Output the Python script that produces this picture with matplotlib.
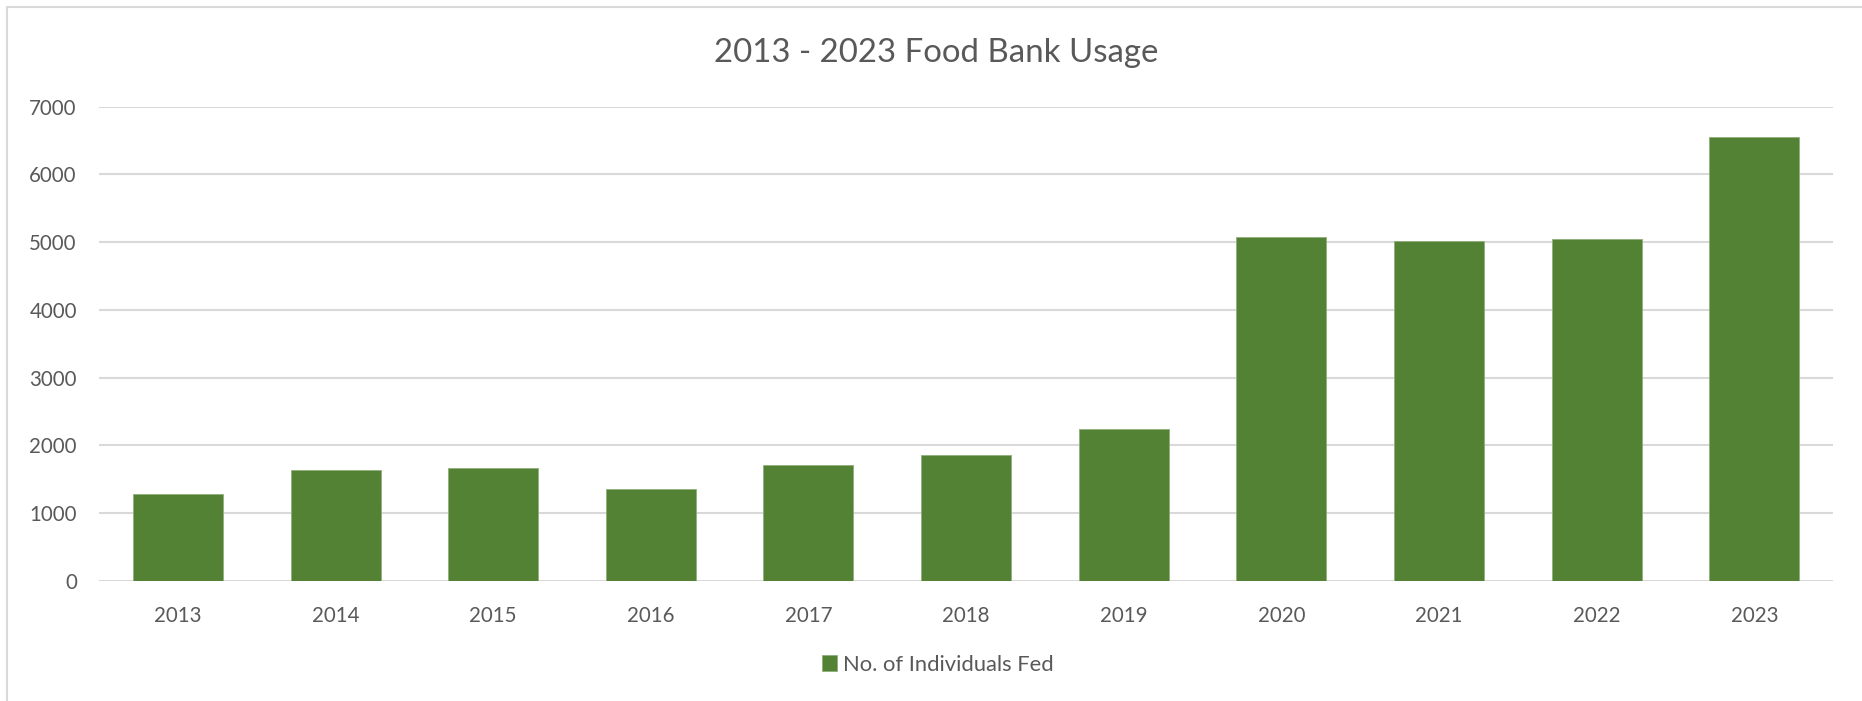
import matplotlib.pyplot as plt
from matplotlib.patches import Rectangle
import numpy as np

# values
years = ['2013', '2014', '2015', '2016', '2017', '2018', '2019', '2020', '2021', '2022', '2023']
individuals_fed = [1281, 1645, 1669, 1365, 1713, 1866, 2249, 5081, 5018, 5041, 6558]
y_ticks = [0, 1000, 2000, 3000, 4000, 5000, 6000, 7000]

bar_color = '#548235'
text_color = '#595959'
grid_color = '#d9d9d9'

plt.rcParams['font.family'] = ['Lato', 'DejaVu Sans']

fig = plt.figure(figsize=(18.62, 7.01), dpi=100)
ax = fig.add_axes([0.0532, 0.1712, 0.9313, 0.6766])

x = np.arange(len(years))
ax.bar(x, individuals_fed, width=0.571, color=bar_color, edgecolor='#8fae7a',
       linewidth=0.6, label='No. of Individuals Fed', zorder=3)

ax.set_xlim(-0.5, len(years) - 0.5)
ax.set_ylim(0, 7000)
ax.set_yticks(y_ticks)
ax.set_xticks(x)
ax.set_xticklabels(years)

#gridlines look like excel
ax.yaxis.grid(True, color=grid_color, linewidth=1.5, zorder=0)
ax.set_axisbelow(True)
for s in ax.spines.values():
	s.set_visible(False)
ax.tick_params(axis='both', length=0, labelsize=14.8, labelcolor=text_color)
ax.tick_params(axis='y', pad=16)
ax.tick_params(axis='x', pad=18)

fig.text(0.5027, 0.924, '2013 - 2023 Food Bank Usage', ha='center', va='center',
         fontsize=23.8, color=text_color)

ax.legend(loc='center', bbox_to_anchor=(0.5035, 0.052), bbox_transform=fig.transFigure,
          frameon=False, handlelength=0.7, handleheight=0.7, handletextpad=0.25,
          fontsize=15.8, labelcolor=text_color)

#the chart border, cut off at the right and bottom
fig.patches.append(Rectangle((7 / 1862, -0.1), 1.2, 1 - 7 / 701 + 0.1, transform=fig.transFigure,
                             fill=False, edgecolor=grid_color, linewidth=1.5))

fig.savefig('out.png', dpi=100)
